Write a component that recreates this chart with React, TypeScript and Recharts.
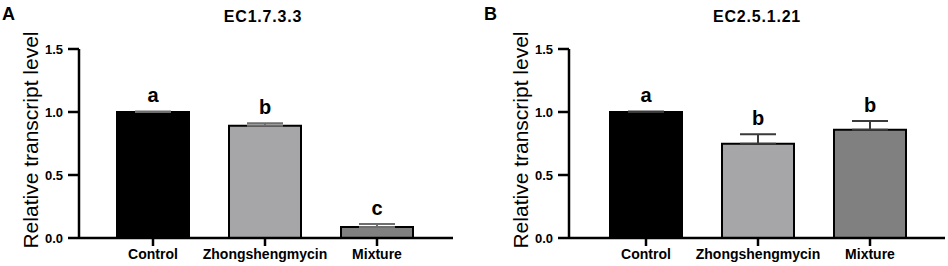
import { BarChart, Bar, XAxis, YAxis, Cell, ErrorBar, LabelList } from 'recharts'

const CATEGORIES = ['Control', 'Zhongshengmycin', 'Mixture']
const Y_TICKS = [0, 0.5, 1.0, 1.5]
const FILLS = ['#000000', '#a6a6a9', '#808080']

const EC1_VALUES = [1.0, 0.89, 0.088]
const EC1_ERRORS = [0.004, 0.02, 0.024]
const EC1_LETTERS = ['a', 'b', 'c']

const EC2_VALUES = [1.0, 0.748, 0.86]
const EC2_ERRORS = [0.004, 0.076, 0.068]
const EC2_LETTERS = ['a', 'b', 'b']

const FONT = 'Arial, "Liberation Sans", sans-serif'

type Row = { name: string; value: number; err: [number, number]; letter: string }

function buildRows(values: number[], errors: number[], letters: string[]): Row[] {
  return CATEGORIES.map((name, i) => ({
    name,
    value: values[i],
    err: [0, errors[i]],
    letter: letters[i],
  }))
}

// significance letter sits a little above the top of the error bar
function letterLabel(rows: Row[]) {
  return (props: any) => {
    const vb = props.viewBox ?? props
    const { x, y, width, height } = vb
    const row = rows[props.index]
    if (!row) return null
    const pxPerUnit = height / row.value
    const top = y - row.err[1] * pxPerUnit
    return (
      <text
        x={x + width / 2}
        y={top - 9}
        textAnchor="middle"
        fontFamily={FONT}
        fontWeight="bold"
        fontSize={20}
        fill="#000"
      >
        {props.value}
      </text>
    )
  }
}

function YTick(props: any) {
  const { x, y, payload } = props
  return (
    <text
      x={x}
      y={y}
      dy={4.5}
      textAnchor="end"
      fontFamily={FONT}
      fontWeight="bold"
      fontSize={13}
      fill="#000"
    >
      {Number(payload.value).toFixed(1)}
    </text>
  )
}

function Panel({
  rows,
  width,
  rightMargin,
  padding,
  errColor,
}: {
  rows: Row[]
  width: number
  rightMargin: number
  padding: { left: number; right: number }
  errColor: string
}) {
  return (
    <BarChart
      width={width}
      height={266}
      data={rows}
      margin={{ top: 49, right: rightMargin, bottom: 0, left: 0 }}
      barSize={72}
    >
      <XAxis
        dataKey="name"
        height={28}
        padding={padding}
        axisLine={{ stroke: '#000', strokeWidth: 2.5 }}
        tickLine={{ stroke: '#000', strokeWidth: 2.5 }}
        tickSize={8}
        tickMargin={3}
        interval={0}
        tick={{ fill: '#000', fontSize: 14, fontWeight: 'bold', fontFamily: FONT }}
      />
      <YAxis
        width={79}
        domain={[0, 1.5]}
        ticks={Y_TICKS}
        axisLine={{ stroke: '#000', strokeWidth: 2.5 }}
        tickLine={{ stroke: '#000', strokeWidth: 2.5 }}
        tickSize={11}
        tickMargin={5}
        tick={<YTick />}
      />
      <Bar dataKey="value" stroke="#000" strokeWidth={2} isAnimationActive={false}>
        {rows.map((_, i) => (
          <Cell key={i} fill={FILLS[i]} />
        ))}
        <ErrorBar dataKey="err" direction="y" width={18} stroke={errColor} strokeWidth={2} />
        <LabelList dataKey="letter" content={letterLabel(rows)} />
      </Bar>
    </BarChart>
  )
}

const textBase: React.CSSProperties = {
  position: 'absolute',
  fontFamily: FONT,
  color: '#000',
  whiteSpace: 'nowrap',
  lineHeight: 1,
}

function YLabel({ cx }: { cx: number }) {
  return (
    <div
      style={{
        ...textBase,
        left: cx,
        top: 140,
        fontSize: 21,
        transform: 'translate(-50%, -50%) rotate(-90deg)',
      }}
    >
      Relative transcript level
    </div>
  )
}

function Title({ cx, children }: { cx: number; children: string }) {
  return (
    <div
      style={{
        ...textBase,
        left: cx,
        top: 9,
        fontSize: 16,
        fontWeight: 'bold',
        letterSpacing: 0.8,
        transform: 'translateX(-50%)',
      }}
    >
      {children}
    </div>
  )
}

export default function App() {
  const ec1 = buildRows(EC1_VALUES, EC1_ERRORS, EC1_LETTERS)
  const ec2 = buildRows(EC2_VALUES, EC2_ERRORS, EC2_LETTERS)

  return (
    <div
      style={{
        position: 'fixed',
        left: 0,
        top: 0,
        width: 948,
        height: 266,
        background: '#fff',
        overflow: 'hidden',
      }}
    >
      <div style={{ position: 'absolute', left: 0, top: 0 }}>
        <Panel rows={ec1} width={470} rightMargin={17} padding={{ left: 18, right: 20 }} errColor="#6e6e6e" />
      </div>
      <div style={{ position: 'absolute', left: 490, top: 0 }}>
        <Panel rows={ec2} width={458} rightMargin={3} padding={{ left: 21, right: 19 }} errColor="#3a3a3a" />
      </div>

      <div style={{ ...textBase, left: 2, top: 5, fontSize: 18, fontWeight: 'bold' }}>A</div>
      <div style={{ ...textBase, left: 484, top: 5, fontSize: 18, fontWeight: 'bold' }}>B</div>

      <Title cx={263}>EC1.7.3.3</Title>
      <Title cx={757}>EC2.5.1.21</Title>

      <YLabel cx={30} />
      <YLabel cx={520} />
    </div>
  )
}
